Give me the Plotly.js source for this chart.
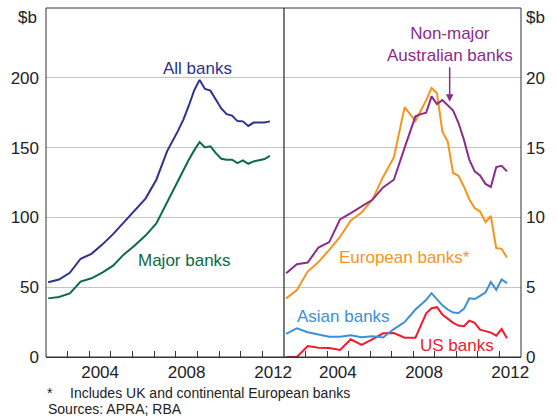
<!DOCTYPE html>
<html>
<head>
<meta charset="utf-8">
<script src="https://cdn.plot.ly/plotly-3.0.1.min.js"></script>
<style>html,body{margin:0;padding:0;background:#fff;}#chart{width:557px;height:417px;}</style>
</head>
<body>
<div id="chart"></div>
<script>
// Dates (decimal years): half-yearly to 2007, quarterly from 2008
const dates = [2002.1, 2002.6, 2003.1, 2003.6, 2004.1, 2004.6, 2005.1, 2005.6, 2006.1, 2006.6, 2007.1, 2007.6,
  2008.1, 2008.35, 2008.6, 2008.85, 2009.1, 2009.35, 2009.6, 2009.85, 2010.1, 2010.35, 2010.6, 2010.85,
  2011.1, 2011.35, 2011.6, 2011.85, 2012.1, 2012.35];

// Left panel ($b)
const allBanks = [53.6, 55.5, 60.3, 70.4, 73.9, 80.5, 88, 96.5, 104.5, 113.5, 127, 147.5,
  162, 170, 180, 191, 198.5, 192, 190.8, 184, 178, 174, 172.9, 169,
  168.8, 165.5, 167.9, 167.9, 168, 168.8];
const majorBanks = [42, 43, 45.5, 54, 56.4, 60.5, 65.4, 73.5, 79.8, 87, 95.6, 111,
  125.8, 133, 141.3, 148, 154, 150.1, 150.9, 146, 142, 141.3, 141.3, 138.9,
  140.8, 138.4, 140.1, 141, 141.8, 144];

// Right panel ($b)
const nonMajor = [6.0, 6.65, 6.77, 7.84, 8.23, 9.85, 10.3, 10.76, 11.26, 12.15, 12.7, 15.0,
  17.24, 17.4, 17.5, 18.67, 18.12, 18.4, 18.05, 17.65, 16.76, 15.57, 14.13, 13.3,
  13.0, 12.4, 12.18, 13.6, 13.7, 13.3];
const european = [4.2, 4.8, 6.12, 6.8, 7.68, 8.6, 9.78, 10.35, 11.26, 12.9, 14.3, 17.9,
  16.9, 17.6, 18.4, 19.27, 18.9, 16.16, 15.44, 13.18, 12.98, 12.2, 11.3, 10.67,
  10.42, 9.66, 10.1, 7.8, 7.75, 7.12];
const asian = [1.65, 2.06, 1.77, 1.63, 1.45, 1.45, 1.55, 1.42, 1.48, 1.4, 2.0, 2.5,
  3.4, 3.75, 4.1, 4.57, 4.14, 3.7, 3.4, 3.18, 3.15, 3.45, 4.21, 4.15,
  4.38, 4.62, 5.37, 4.81, 5.55, 5.29];
const usBanks = [0, 0, 0.79, 0.67, 0.65, 0.5, 1.27, 0.86, 1.27, 1.7, 1.72, 1.38,
  1.38, 2.25, 3.13, 3.49, 3.57, 3.05, 2.72, 2.45, 2.25, 2.2, 2.6, 2.44,
  1.96, 1.85, 1.75, 1.53, 2.0, 1.34];

const yearTicks = [2003, 2004, 2005, 2006, 2007, 2008, 2009, 2010, 2011, 2012];
const yearLabelPos = [2004.5, 2008.5, 2012.5];
const yearLabels = ['2004', '2008', '2012'];
const leftTicks = [0, 50, 100, 150, 200];
const rightTicks = [0, 5, 10, 15, 20];

const C = {all:'#2e3192', major:'#0a6b47', nonmajor:'#8b2b8c', euro:'#f7941d', asian:'#3a8fd8', us:'#ed1c2e'};
const FONT = 'Liberation Sans, Arial, sans-serif';

function line(y, color, xa, ya) {
  return {x: dates, y: y, type:'scatter', mode:'lines', xaxis: xa, yaxis: ya,
    line:{color: color, width: 2}, hoverinfo:'skip', showlegend:false};
}
const data = [
  line(allBanks, C.all, 'x', 'y'),
  line(majorBanks, C.major, 'x', 'y'),
  line(usBanks, C.us, 'x2', 'y2'),
  line(asian, C.asian, 'x2', 'y2'),
  line(european, C.euro, 'x2', 'y2'),
  line(nonMajor, C.nonmajor, 'x2', 'y2')
];

const xCommon = {
  range:[2002, 2013], tickmode:'array', tickvals: yearLabelPos, ticktext: yearLabels, ticks:'',
  showgrid:false, zeroline:false, showline:true, linecolor:'#333', linewidth:1,
  tickfont:{family:FONT, size:17, color:'#222'},
  minor:{tickmode:'array', tickvals: yearTicks, ticks:'inside', ticklen:6, tickcolor:'#333', tickwidth:1, showgrid:false}
};

const layout = {
  width:557, height:417,
  margin:{l:46, r:36, t:8, b:60},
  paper_bgcolor:'#fff', plot_bgcolor:'#fff',
  font:{family:FONT, color:'#222'},
  xaxis: Object.assign({}, xCommon, {domain:[0, 0.501], anchor:'y'}),
  xaxis2: Object.assign({}, xCommon, {domain:[0.501, 1], anchor:'y2'}),
  yaxis: {range:[0, 250], tickmode:'array', tickvals:leftTicks, showgrid:true, gridcolor:'#c4c4c4', gridwidth:1,
    zeroline:false, showline:false, ticks:'', ticklabelstandoff:6, anchor:'x',
    tickfont:{family:FONT, size:17, color:'#222'}},
  yaxis2: {range:[0, 25], tickmode:'array', tickvals:rightTicks, showgrid:true, gridcolor:'#c4c4c4', gridwidth:1,
    zeroline:false, showline:false, ticks:'', side:'right', anchor:'x2', ticklabelstandoff:4,
    tickfont:{family:FONT, size:17, color:'#222'}},
  shapes:[
    {type:'rect', xref:'paper', yref:'paper', x0:0, x1:1, y0:0, y1:1, line:{color:'#333', width:1}},
    {type:'line', xref:'paper', yref:'paper', x0:0.501, x1:0.501, y0:0, y1:1, line:{color:'#222', width:1.2}}
  ],
  annotations:[
    {xref:'paper', yref:'paper', x:-0.038, y:0.972, text:'$b', showarrow:false, xanchor:'center', yanchor:'middle', font:{size:17, color:'#222'}},
    {xref:'paper', yref:'paper', x:1.03, y:0.972, text:'$b', showarrow:false, xanchor:'center', yanchor:'middle', font:{size:17, color:'#222'}},
    {xref:'x', yref:'y', x:2008.99, y:206.6, text:'All banks', showarrow:false, font:{size:17, color:C.all}},
    {xref:'x', yref:'y', x:2008.39, y:68.9, text:'Major banks', showarrow:false, font:{size:17, color:C.major}},
    {xref:'x2', yref:'y2', x:2009.70, y:22.4, text:'Non-major<br>Australian banks', showarrow:false, font:{size:17, color:C.nonmajor}},
    {xref:'x2', yref:'y2', x:2009.69, y:18.29, ax:0, ay:-36, text:'', showarrow:true, arrowhead:2, arrowsize:1, arrowwidth:1.5, arrowcolor:C.nonmajor},
    {xref:'x2', yref:'y2', x:2007.61, y:7.1, text:'European banks*', showarrow:false, font:{size:17, color:C.euro}},
    {xref:'x2', yref:'y2', x:2004.78, y:2.87, text:'Asian banks', showarrow:false, font:{size:17, color:C.asian}},
    {xref:'x2', yref:'y2', x:2010.05, y:0.79, text:'US banks', showarrow:false, font:{size:17, color:C.us}},
    {xref:'paper', yref:'paper', x:-0.002, y:-0.104, xanchor:'left', yanchor:'middle', showarrow:false,
      text:'*', font:{size:14, color:'#222'}},
    {xref:'paper', yref:'paper', x:0.046, y:-0.104, xanchor:'left', yanchor:'middle', showarrow:false,
      text:'Includes UK and continental European banks', font:{size:14, color:'#222'}},
    {xref:'paper', yref:'paper', x:0, y:-0.149, xanchor:'left', yanchor:'middle', showarrow:false,
      text:'Sources: APRA; RBA', font:{size:14, color:'#222'}}
  ]
};

Plotly.newPlot('chart', data, layout, {staticPlot:true, displayModeBar:false});
</script>
</body>
</html>
